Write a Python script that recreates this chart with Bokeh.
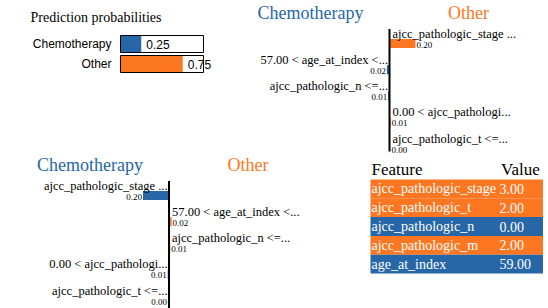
from bokeh.plotting import figure
from bokeh.models import Range1d
from bokeh.embed import file_html
from bokeh.resources import INLINE
from bokeh.core.properties import value

# ---------------- data ----------------
classes = ["Chemotherapy", "Other"]
probabilities = [0.25, 0.75]

feature_rules = [
    "ajcc_pathologic_stage ...",
    "57.00 < age_at_index <...",
    "ajcc_pathologic_n <=...",
    "0.00 < ajcc_pathologi...",
    "ajcc_pathologic_t <=...",
]
# weights towards "Other" (positive = right / orange)
weights_other = [0.20, -0.02, -0.01, 0.01, 0.002]
# second explanation (mirrored)
weights_chemo = [-0.20, 0.02, 0.01, -0.01, -0.002]

table_features = ["ajcc_pathologic_stage", "ajcc_pathologic_t", "ajcc_pathologic_n",
                  "ajcc_pathologic_m", "age_at_index"]
table_values = [3.00, 2.00, 0.00, 2.00, 59.00]
table_sign = [1, 1, -1, 1, -1]   # sign of weight towards "Other"

# ---------------- style ----------------
BLUE = "#2767a8"
ORANGE = "#fd7722"
SERIF = value("Liberation Serif")
SANS = value("Liberation Sans")

W, H = 548, 308
p = figure(width=W, height=H, x_range=Range1d(0, W), y_range=Range1d(H, 0),
           output_backend="svg", toolbar_location=None, min_border=0,
           x_axis_type=None, y_axis_type=None)
p.grid.visible = False
p.outline_line_color = None
p.background_fill_color = "white"
p.border_fill_color = "white"

# ---------------- prediction probabilities ----------------
p.text(x=[30], y=[16.7], text=["Prediction probabilities"], text_font=SERIF,
       text_font_size=value("14px"), text_align="left", text_baseline="middle", text_color="black")
BOX_L, BOX_W, BOX_H = 120, 83, 17
box_top = [35, 55]
prob_colors = [BLUE, ORANGE]
p.quad(left=[BOX_L] * 2, right=[BOX_L + BOX_W * v for v in probabilities],
       top=box_top, bottom=[t + BOX_H for t in box_top], fill_color=prob_colors, line_color=None)
p.quad(left=[BOX_L] * 2, right=[BOX_L + BOX_W] * 2, top=box_top,
       bottom=[t + BOX_H for t in box_top], fill_color=None, line_color="black", line_width=1)
p.text(x=[111] * 2, y=[t + 8.5 for t in box_top], text=classes, text_font=SANS,
       text_font_size=value("12px"), text_align="right", text_baseline="middle", text_color="black")
p.text(x=[BOX_L + BOX_W * v + 5 for v in probabilities], y=[t + 8.5 for t in box_top],
       text=["%.2f" % v for v in probabilities], text_font=SANS, text_font_size=value("12px"),
       text_align="left", text_baseline="middle", text_color="black")

# ---------------- explanation panels ----------------
ROW = 26.3
SCALE = 130.0


def explanation(axis_x, row0, weights, axis_bottom):
    n = len(weights)
    rows = [row0 + ROW * i for i in range(n)]
    # titles
    p.text(x=[axis_x - 79], y=[row0 - 20.5], text=[classes[0]], text_font=SERIF,
           text_font_size=value("18px"), text_align="center", text_baseline="middle", text_color=BLUE)
    p.text(x=[axis_x + 79], y=[row0 - 20.5], text=[classes[1]], text_font=SERIF,
           text_font_size=value("18px"), text_align="center", text_baseline="middle", text_color=ORANGE)
    # bars
    left = [axis_x + min(0.0, w) * SCALE for w in weights]
    right = [axis_x + max(0.0, w) * SCALE for w in weights]
    cols = [BLUE if w < 0 else ORANGE for w in weights]
    p.quad(left=left, right=right, top=[r + 5.5 for r in rows], bottom=[r + 14.5 for r in rows],
           fill_color=cols, line_color=None)
    # axis line
    p.segment(x0=[axis_x], y0=[row0 - 4.5], x1=[axis_x], y1=[axis_bottom], line_color="black", line_width=2)
    # labels & values
    for i, w in enumerate(weights):
        if w >= 0:
            p.text(x=[axis_x + 3], y=[rows[i]], text=[feature_rules[i]], text_font=SERIF,
                   text_font_size=value("12.5px"), text_align="left", text_baseline="middle", text_color="black")
            p.text(x=[max(right[i], axis_x + 1) + 1], y=[rows[i] + 11], text=["%.2f" % abs(w)], text_font=SERIF,
                   text_font_size=value("9px"), text_align="left", text_baseline="middle", text_color="black")
        else:
            p.text(x=[axis_x - 1.5], y=[rows[i]], text=[feature_rules[i]], text_font=SERIF,
                   text_font_size=value("12.5px"), text_align="right", text_baseline="middle", text_color="black")
            p.text(x=[min(left[i], axis_x - 1) - 1], y=[rows[i] + 11], text=["%.2f" % abs(w)], text_font=SERIF,
                   text_font_size=value("9px"), text_align="right", text_baseline="middle", text_color="black")


explanation(389, 33, weights_other, 151)
explanation(168.5, 185, weights_chemo, 308)

# ---------------- feature / value table ----------------
TX0, TX1 = 370, 542.5
p.text(x=[371], y=[168.5], text=["Feature"], text_font=SERIF, text_font_size=value("17px"),
       text_align="left", text_baseline="middle", text_color="black")
p.text(x=[500.5], y=[168.5], text=["Value"], text_font=SERIF, text_font_size=value("17px"),
       text_align="left", text_baseline="middle", text_color="black")
RH = 18.8
row_top = [179 + RH * i for i in range(len(table_features))]
p.quad(left=[TX0] * len(row_top), right=[TX1] * len(row_top), top=row_top,
       bottom=[t + RH for t in row_top], fill_color=[ORANGE if s > 0 else BLUE for s in table_sign],
       line_color=None)
p.text(x=[371] * len(row_top), y=[t + RH / 2 for t in row_top], text=table_features, text_font=SERIF,
       text_font_size=value("14px"), text_align="left", text_baseline="middle", text_color="white")
p.text(x=[499] * len(row_top), y=[t + RH / 2 for t in row_top], text=["%.2f" % v for v in table_values],
       text_font=SERIF, text_font_size=value("14px"), text_align="left", text_baseline="middle",
       text_color="white")

open("out.html", "w").write(file_html(p, INLINE))
